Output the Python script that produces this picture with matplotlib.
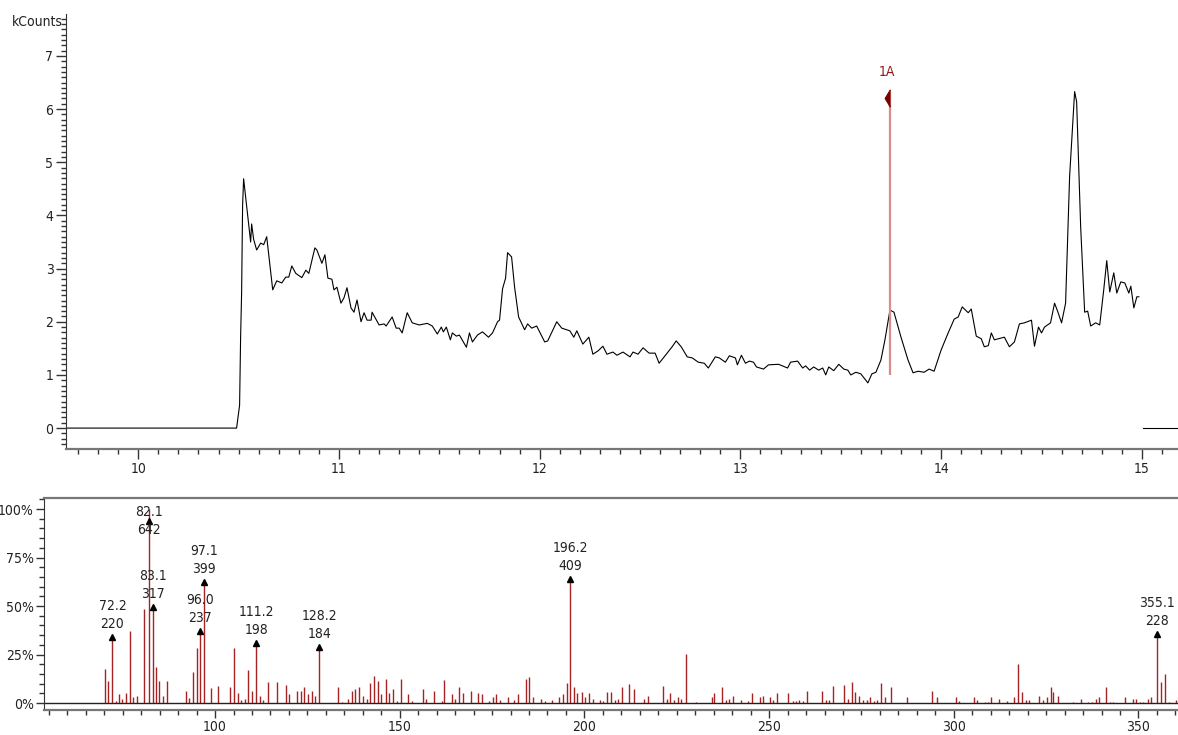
import numpy as np
import matplotlib
matplotlib.use("Agg")
from matplotlib import pyplot as plt
from matplotlib import font_manager
from matplotlib.ticker import MultipleLocator, FuncFormatter

# prefer a narrow sans face for the instrument-style labels
_fonts = font_manager.fontManager.ttflist
_names = {f.name for f in _fonts}
_stretch = 'normal'
if 'Liberation Sans Narrow' in _names:
    base_family = ['Liberation Sans Narrow', 'DejaVu Sans']
    fs = 11
elif any(f.name == 'DejaVu Sans' and f.stretch == 'condensed' for f in _fonts):
    base_family = ['DejaVu Sans']
    _stretch = 'condensed'
    fs = 10
else:
    base_family = ['Liberation Sans', 'DejaVu Sans']
    fs = 10
plt.rcParams['font.family'] = base_family
plt.rcParams['font.stretch'] = _stretch
plt.rcParams['font.size'] = fs

# --- chromatogram (time in min, signal in kCounts) ---
chrom_t = [9.64, 10.46, 10.49, 10.505, 10.51, 10.515, 10.52, 10.525, 10.545, 10.56,
           10.565, 10.575, 10.59, 10.61, 10.625, 10.64, 10.67, 10.69, 10.715, 10.735,
           10.75, 10.765, 10.785, 10.815, 10.835, 10.85, 10.88, 10.89, 10.915, 10.93,
           10.945, 10.965, 10.975, 10.99, 11.01, 11.025, 11.04, 11.06, 11.075, 11.09,
           11.11, 11.125, 11.14, 11.16, 11.165, 11.20, 11.225, 11.235, 11.265, 11.285,
           11.30, 11.315, 11.34, 11.365, 11.40, 11.44, 11.465, 11.49, 11.51, 11.52,
           11.535, 11.555, 11.565, 11.585, 11.60, 11.635, 11.65, 11.665, 11.69, 11.715,
           11.745, 11.765, 11.79, 11.80, 11.815, 11.83, 11.84, 11.86, 11.875, 11.895,
           11.925, 11.94, 11.96, 11.985, 12.025, 12.04, 12.085, 12.11, 12.15, 12.17,
           12.185, 12.215, 12.245, 12.265, 12.29, 12.315, 12.335, 12.365, 12.385, 12.415,
           12.45, 12.465, 12.49, 12.515, 12.545, 12.575, 12.595, 12.635, 12.66, 12.68,
           12.705, 12.735, 12.76, 12.79, 12.82, 12.84, 12.875, 12.895, 12.925, 12.945,
           12.975, 12.985, 13.005, 13.025, 13.045, 13.065, 13.08, 13.115, 13.14, 13.19,
           13.235, 13.25, 13.285, 13.31, 13.325, 13.345, 13.365, 13.39, 13.41, 13.425,
           13.44, 13.465, 13.49, 13.515, 13.535, 13.55, 13.575, 13.60, 13.635, 13.655,
           13.675, 13.70, 13.72, 13.745, 13.765, 13.80, 13.835, 13.86, 13.885, 13.915,
           13.94, 13.965, 14.0, 14.035, 14.065, 14.085, 14.105, 14.135, 14.15, 14.175,
           14.20, 14.215, 14.235, 14.25, 14.265, 14.315, 14.34, 14.365, 14.39, 14.415,
           14.45, 14.465, 14.485, 14.50, 14.515, 14.545, 14.565, 14.58, 14.60, 14.62,
           14.64, 14.665, 14.675, 14.695, 14.715, 14.73, 14.745, 14.77, 14.79, 14.81,
           14.825, 14.84, 14.86, 14.875, 14.895, 14.915, 14.935, 14.945, 14.96, 14.975,
           14.985]
chrom_k = [0.0, 0.0, 0.0, 0.43, 1.7, 2.54, 4.2, 4.69, 4.0, 3.5,
           3.84, 3.55, 3.35, 3.48, 3.45, 3.6, 2.6, 2.77, 2.73, 2.84,
           2.84, 3.05, 2.91, 2.83, 2.97, 2.91, 3.39, 3.35, 3.1, 3.26,
           2.82, 2.8, 2.6, 2.65, 2.35, 2.45, 2.64, 2.26, 2.18, 2.41,
           2.0, 2.17, 2.03, 2.03, 2.18, 1.94, 1.96, 1.92, 2.09, 1.88,
           1.88, 1.79, 2.17, 1.98, 1.94, 1.97, 1.92, 1.77, 1.90, 1.81,
           1.90, 1.66, 1.79, 1.73, 1.75, 1.52, 1.79, 1.62, 1.75, 1.81,
           1.71, 1.79, 2.0, 2.03, 2.62, 2.82, 3.3, 3.22, 2.65, 2.09,
           1.85, 1.96, 1.88, 1.92, 1.62, 1.64, 2.0, 1.88, 1.83, 1.71,
           1.83, 1.58, 1.71, 1.39, 1.45, 1.54, 1.39, 1.43, 1.37, 1.43,
           1.34, 1.43, 1.39, 1.51, 1.41, 1.41, 1.22, 1.41, 1.53, 1.64,
           1.53, 1.34, 1.32, 1.24, 1.22, 1.13, 1.34, 1.32, 1.24, 1.36,
           1.32, 1.19, 1.37, 1.22, 1.26, 1.24, 1.15, 1.11, 1.19, 1.20,
           1.13, 1.24, 1.26, 1.13, 1.17, 1.09, 1.15, 1.09, 1.13, 1.0,
           1.15, 1.08, 1.20, 1.11, 1.09, 1.0, 1.05, 1.02, 0.85, 1.02,
           1.05, 1.28, 1.66, 2.22, 2.18, 1.71, 1.28, 1.04, 1.07, 1.05,
           1.11, 1.07, 1.47, 1.79, 2.05, 2.09, 2.28, 2.17, 2.24, 1.73,
           1.68, 1.53, 1.55, 1.79, 1.66, 1.71, 1.53, 1.62, 1.96, 1.98,
           2.03, 1.54, 1.90, 1.79, 1.90, 1.98, 2.35, 2.20, 1.98, 2.35,
           4.73, 6.33, 6.14, 3.79, 2.18, 2.20, 1.92, 1.98, 1.94, 2.60,
           3.15, 2.56, 2.92, 2.54, 2.75, 2.73, 2.54, 2.67, 2.26, 2.47,
           2.47]
tail_t = [15.005, 15.18]
tail_k = [0.0, 0.0]

# scan marker "1A"
marker_label = "1A"
marker_t = 13.745
marker_lo, marker_hi = 1.0, 6.33

# --- mass spectrum at the marker (m/z, relative abundance %) ---
ion_mz = [70.2, 71.1, 73.1, 73.9, 74.9, 76.0, 77.0, 77.9, 78.8, 80.8,
          84.0, 84.9, 86.0, 86.9, 92.1, 93.0, 94.1, 95.0, 98.8, 100.9,
          104.1, 105.2, 106.2, 107.0, 108.1, 109.0, 110.1, 112.2, 113.1, 114.2,
          116.9, 119.2, 120.1, 122.1, 123.2, 124.1, 125.1, 126.2, 127.1, 133.2,
          134.3, 136.1, 137.2, 138.0, 139.0, 140.0, 141.0, 142.0, 143.1, 144.1,
          145.0, 146.2, 147.1, 148.1, 149.2, 150.3, 152.2, 153.2, 156.3, 157.0,
          159.2, 161.4, 162.1, 164.2, 165.0, 166.1, 167.1, 169.2, 171.1, 172.2,
          174.1, 175.2, 176.1, 177.2, 179.2, 181.0, 181.9, 184.2, 185.1, 186.2,
          188.2, 189.2, 191.2, 193.2, 194.3, 195.2, 197.2, 198.1, 199.3, 200.2,
          201.2, 202.2, 204.2, 205.1, 206.2, 207.2, 208.3, 209.2, 210.3, 212.2,
          213.3, 216.1, 217.1, 221.2, 222.3, 223.2, 224.3, 225.3, 226.2, 227.4,
          230.2, 234.5, 235.2, 237.2, 238.3, 239.2, 240.2, 242.3, 244.2, 245.3,
          247.4, 248.4, 250.2, 251.1, 252.1, 255.2, 256.4, 257.3, 258.2, 259.3,
          260.2, 264.2, 265.3, 266.3, 267.2, 270.3, 271.3, 272.4, 273.3, 274.4,
          275.3, 276.4, 277.3, 278.4, 279.3, 280.4, 281.4, 283.1, 287.3, 294.0,
          295.4, 300.5, 301.4, 305.5, 306.4, 308.5, 309.3, 310.2, 312.2, 314.5,
          316.4, 317.3, 318.4, 319.5, 320.4, 323.1, 324.2, 325.3, 326.3, 326.9,
          328.3, 332.2, 334.4, 336.4, 337.3, 338.4, 339.3, 341.2, 342.3, 343.2,
          346.4, 348.4, 349.3, 350.4, 351.3, 352.5, 353.4, 356.0, 357.2, 358.3,
          360.2]
ion_pct = [17.4, 11.3, 1.2, 4.5, 1.9, 5.0, 37.0, 3.0, 3.5, 48.3,
           18.7, 11.3, 3.5, 11.3, 6.4, 2.4, 16.2, 28.2, 7.6, 8.8,
           8.1, 28.2, 5.3, 1.7, 2.0, 17.0, 6.4, 3.5, 1.7, 10.8,
           10.8, 9.3, 4.5, 6.4, 6.4, 8.1, 4.5, 6.4, 3.5, 8.1,
           0.6, 2.0, 6.4, 7.0, 8.1, 3.5, 2.0, 10.1, 13.9, 11.5,
           4.5, 12.5, 5.3, 7.0, 1.0, 12.5, 4.5, 1.0, 7.0, 2.0,
           6.4, 1.0, 11.9, 4.5, 2.0, 8.3, 5.2, 6.4, 5.0, 4.5,
           1.0, 2.9, 4.5, 1.5, 3.3, 1.5, 4.5, 12.5, 13.2, 2.9,
           1.9, 1.0, 1.5, 2.9, 4.5, 10.1, 8.1, 5.2, 5.6, 2.9,
           5.2, 2.0, 1.5, 1.0, 5.6, 5.6, 1.5, 2.0, 8.3, 9.8,
           7.3, 2.0, 3.5, 8.8, 2.0, 5.2, 1.5, 3.3, 2.0, 25.1,
           0.5, 2.9, 5.2, 8.1, 1.5, 2.0, 3.5, 1.5, 1.0, 5.2,
           3.3, 3.5, 2.9, 1.5, 5.2, 5.2, 1.0, 1.0, 1.5, 1.0,
           6.4, 6.4, 1.5, 1.5, 8.8, 9.3, 2.0, 10.6, 5.8, 3.5,
           1.5, 1.5, 3.3, 1.0, 1.5, 10.1, 2.9, 8.3, 2.9, 6.4,
           2.9, 2.9, 1.0, 3.3, 1.5, 0.5, 0.5, 3.3, 2.0, 1.0,
           3.3, 20.1, 5.8, 1.5, 1.5, 3.5, 1.5, 2.9, 8.3, 5.8,
           3.5, 0.5, 2.0, 0.5, 0.5, 2.0, 3.3, 8.3, 0.5, 0.5,
           2.9, 2.0, 2.0, 0.5, 0.5, 2.0, 3.3, 10.6, 14.9, 0.5,
           1.5]

# labelled ions: m/z and raw counts (base peak = 642)
peak_mz = [72.2, 82.1, 83.1, 96.0, 97.1, 111.2, 128.2, 196.2, 355.1]
peak_counts = [220, 642, 317, 237, 399, 198, 184, 409, 228]

bar_color = '#A52323'
text_color = '#222222'

fig = plt.figure(figsize=(11.78, 7.35), dpi=100)
ax1 = fig.add_axes([0.056, 0.389, 0.944, 0.592])
ax2 = fig.add_axes([0.0374, 0.034, 0.9626, 0.2884])

# chromatogram
ax1.plot(chrom_t, chrom_k, color='black', lw=0.8)
ax1.plot(tail_t, tail_k, color='black', lw=0.8)
ax1.vlines(marker_t, marker_lo, marker_hi, color='#D98C8C', lw=1.6)
flag = [(0, 1), (-0.6, 0), (0, -1)]
ax1.plot([marker_t], [marker_hi - 0.12], marker=flag, markersize=12.5,
         color='#7A0000', ls='none')
ax1.annotate(marker_label, xy=(marker_t, marker_hi), xytext=(-3, 20),
             textcoords='offset pixels', ha='center', va='center',
             color='#8B1A1A', fontsize=fs)

ax1.set_xlim(9.64, 15.18)
ax1.set_ylim(-0.395, 7.79)
ax1.xaxis.set_major_locator(MultipleLocator(1))
ax1.xaxis.set_minor_locator(MultipleLocator(0.1))
ax1.yaxis.set_major_locator(MultipleLocator(1))
ax1.yaxis.set_minor_locator(MultipleLocator(0.1))
ax1.tick_params(which='major', direction='out', length=7, width=1,
                color='#333333', labelcolor=text_color, labelsize=fs, pad=2)
ax1.tick_params(which='minor', direction='out', length=3.5, width=1, color='#333333')
for side in ('top', 'right'):
    ax1.spines[side].set_visible(False)
ax1.spines['left'].set_color('#333333')
ax1.spines['bottom'].set_color('#777777')
ax1.spines['bottom'].set_linewidth(1.6)
ax1.annotate('kCounts', xy=(0, 7.64), xycoords=('axes fraction', 'data'),
             xytext=(-3, 0), textcoords='offset pixels', ha='right', va='center',
             color=text_color, fontsize=fs)

# spectrum
ax2.vlines(ion_mz, 0, ion_pct, color=bar_color, lw=1.0)
peak_pct = [c / max(peak_counts) * 100 for c in peak_counts]
ax2.vlines(peak_mz, 0, peak_pct, color=bar_color, lw=1.0)
for mz, cnt, pct in zip(peak_mz, peak_counts, peak_pct):
    anchor = min(pct, 82.5)
    ax2.plot([mz], [min(pct, 94)], marker='^', markersize=4, color='black', ls='none')
    ax2.annotate(str(cnt), xy=(mz, anchor), xytext=(0, 13), textcoords='offset pixels',
                 ha='center', va='center', color=text_color, fontsize=fs)
    ax2.annotate(f'{mz:.1f}', xy=(mz, anchor), xytext=(0, 31), textcoords='offset pixels',
                 ha='center', va='center', color=text_color, fontsize=fs)
ax2.axhline(0, color='#222222', lw=1.0)

ax2.set_xlim(53.7, 360.7)
ax2.set_ylim(-3.6, 105.7)
ax2.xaxis.set_major_locator(MultipleLocator(50))
ax2.xaxis.set_minor_locator(MultipleLocator(5))
ax2.yaxis.set_major_locator(MultipleLocator(25))
ax2.yaxis.set_minor_locator(MultipleLocator(5))
ax2.yaxis.set_major_formatter(FuncFormatter(lambda v, p: f'{v:.0f}%'))
ax2.tick_params(which='major', direction='out', length=6, width=1,
                color='#333333', labelcolor=text_color, labelsize=fs, pad=1.5)
ax2.tick_params(which='minor', direction='out', length=3.5, width=1, color='#333333')
ax2.spines['right'].set_visible(False)
ax2.spines['left'].set_color('#333333')
ax2.spines['top'].set_color('#777777')
ax2.spines['top'].set_linewidth(1.6)
ax2.spines['bottom'].set_color('#777777')
ax2.spines['bottom'].set_linewidth(1.6)

fig.savefig('out.png', dpi=100)
